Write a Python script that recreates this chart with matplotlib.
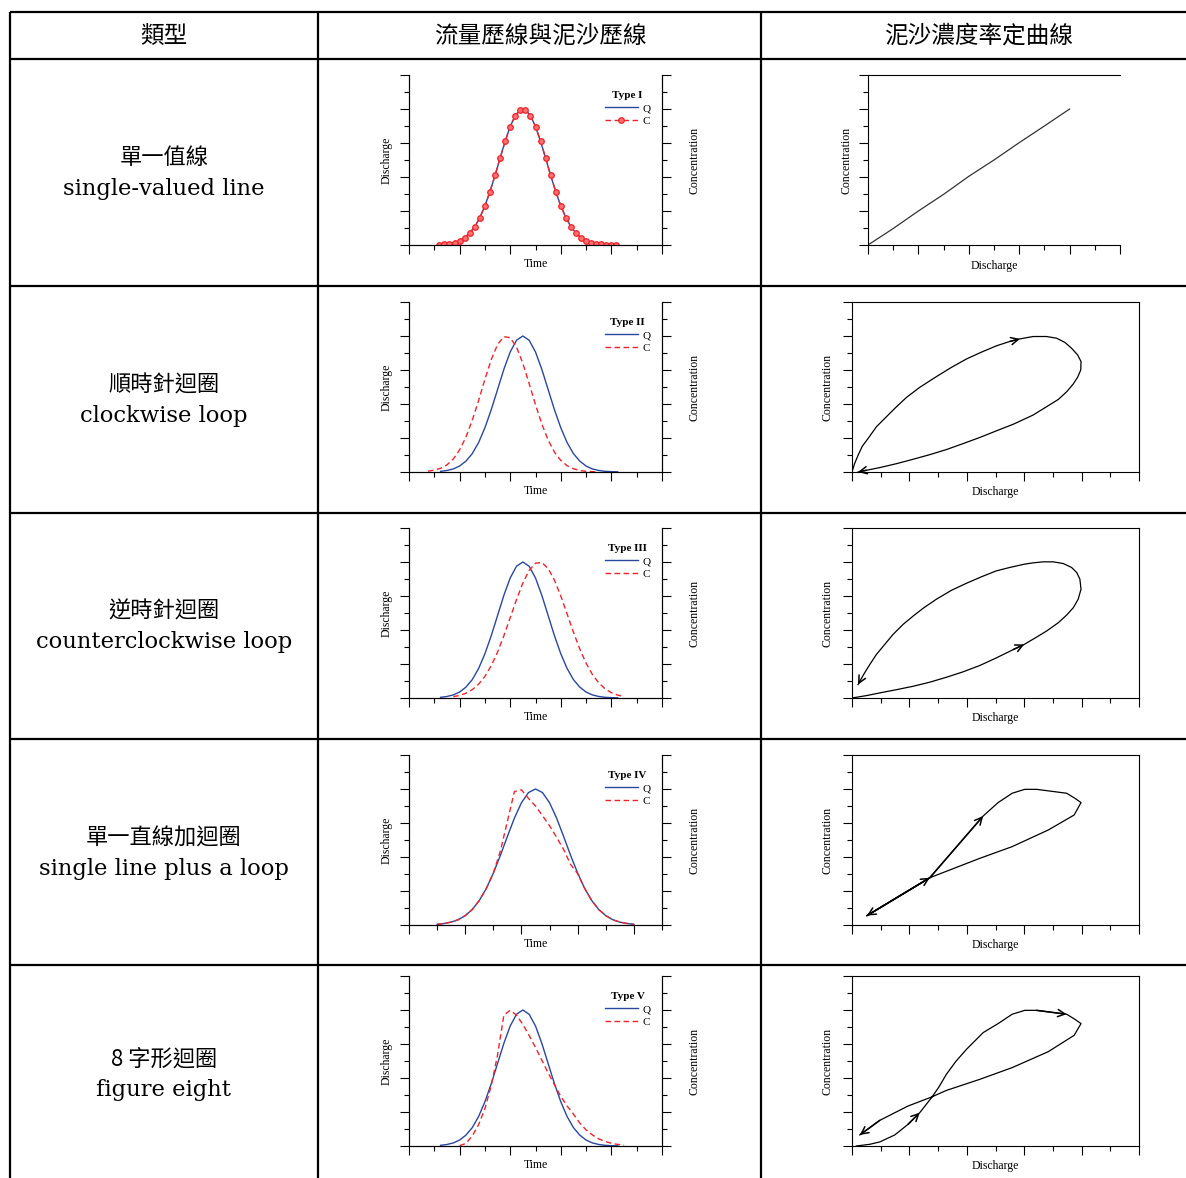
import numpy as np
import matplotlib.pyplot as plt

plt.rcParams['font.family'] = ['Liberation Serif', 'DejaVu Serif']
CJK = ['Noto Sans CJK TC', 'DejaVu Sans']

# table text
headers = ['類型', '流量歷線與泥沙歷線', '泥沙濃度率定曲線']
types_zh = ['單一值線', '順時針迴圈', '逆時針迴圈', '單一直線加迴圈', '8 字形迴圈']
types_en = ['single-valued line', 'clockwise loop', 'counterclockwise loop',
            'single line plus a loop', 'figure eight']
legend_titles = ['Type I', 'Type II', 'Type III', 'Type IV', 'Type V']

# hydrographs (discharge Q and concentration C against time)
t1 = [1.2, 1.4, 1.6, 1.8, 2.0, 2.2, 2.4, 2.6, 2.8, 3.0, 3.2, 3.4, 3.6, 3.8, 4.0, 4.2, 4.4, 4.6,
      4.8, 5.0, 5.2, 5.4, 5.6, 5.8, 6.0, 6.2, 6.4, 6.6, 6.8, 7.0, 7.2, 7.4, 7.6, 7.8, 8.0, 8.2]
q1 = [0.02, 0.04, 0.08, 0.14, 0.25, 0.43, 0.70, 1.08, 1.61, 2.30, 3.14, 4.09, 5.11, 6.10, 6.97, 7.61, 7.96, 7.96,
      7.61, 6.97, 6.10, 5.11, 4.09, 3.14, 2.30, 1.61, 1.08, 0.70, 0.43, 0.25, 0.14, 0.08, 0.04, 0.02, 0.01, 0.0]
c1 = list(q1)  # single-valued: C follows Q exactly

nan = np.nan
t = [0.5, 0.75, 1.0, 1.25, 1.5, 1.75, 2.0, 2.25, 2.5, 2.75, 3.0, 3.25, 3.5, 3.75, 4.0, 4.25, 4.5,
     4.75, 5.0, 5.25, 5.5, 5.75, 6.0, 6.25, 6.5, 6.75, 7.0, 7.25, 7.5, 7.75, 8.0, 8.25, 8.5]
q_std = [nan, nan, nan, 0.04, 0.09, 0.18, 0.35, 0.64, 1.08, 1.73, 2.60, 3.66, 4.85, 6.04, 7.06, 7.75, 8.0,
         7.75, 7.06, 6.04, 4.85, 3.66, 2.60, 1.73, 1.08, 0.64, 0.35, 0.18, 0.09, 0.04, 0.02, 0.01, nan]
c2 = [nan, 0.05, 0.11, 0.22, 0.42, 0.76, 1.30, 2.05, 3.04, 4.20, 5.45, 6.61, 7.50, 7.96, 7.90, 7.35, 6.39,
      5.20, 3.96, 2.82, 1.88, 1.17, 0.68, 0.37, 0.19, 0.09, 0.04, 0.02, 0.01, nan, nan, nan, nan]
c3 = [nan, nan, nan, nan, nan, 0.08, 0.15, 0.28, 0.49, 0.81, 1.27, 1.90, 2.70, 3.66, 4.72, 5.79, 6.76,
      7.51, 7.93, 7.97, 7.62, 6.93, 6.00, 4.94, 3.87, 2.88, 2.05, 1.38, 0.89, 0.54, 0.31, 0.17, 0.09]
q4 = [nan, nan, 0.04, 0.09, 0.17, 0.31, 0.55, 0.91, 1.44, 2.15, 3.05, 4.09, 5.21, 6.29, 7.19, 7.79, 8.0,
      7.79, 7.19, 6.29, 5.21, 4.09, 3.05, 2.15, 1.44, 0.91, 0.55, 0.31, 0.17, 0.09, 0.04, nan, nan]
c4 = [nan, nan, 0.04, 0.09, 0.17, 0.31, 0.55, 0.91, 1.44, 2.15, 3.05, 4.35, 6.10, 7.85, 7.95, 7.45, 7.0,
      6.43, 5.84, 5.16, 4.44, 3.56, 3.02, 2.15, 1.44, 0.91, 0.55, 0.31, 0.17, 0.09, 0.04, nan, nan]
c5 = [nan, nan, nan, nan, nan, nan, 0.02, 0.15, 0.59, 1.25, 2.2, 3.55, 5.35, 7.7, 7.98, 7.7, 7.15,
      6.5, 5.8, 5.05, 4.3, 3.6, 2.92, 2.35, 1.88, 1.35, 0.95, 0.65, 0.42, 0.27, 0.16, 0.09, 0.05]

# rating curves (concentration against discharge)
r1_x = [0, 1, 2, 3, 4, 5, 6, 7, 8]
r1_y = [0, 0.97, 2.0, 2.98, 4.04, 5.0, 6.02, 7.0, 8.0]
r2_x = [0, 0.09, 0.21, 0.36, 0.56, 0.85, 1.20, 1.55, 1.90, 2.36, 2.94, 3.47, 3.99, 4.51, 5.03, 5.50,
        5.85, 6.31, 6.78, 7.13, 7.42, 7.65, 7.86, 7.98, 7.97, 7.86, 7.71, 7.48, 7.19, 6.78, 6.31,
        5.62, 5.03, 4.45, 3.87, 3.29, 2.71, 2.13, 1.55, 0.97, 0.50, 0.21]
r2_y = [0, 0.49, 0.98, 1.52, 1.97, 2.66, 3.25, 3.84, 4.39, 4.98, 5.61, 6.16, 6.65, 7.05, 7.42, 7.68,
        7.83, 7.97, 7.97, 7.87, 7.62, 7.28, 6.89, 6.50, 6.00, 5.57, 5.18, 4.72, 4.27, 3.84, 3.35,
        2.81, 2.42, 2.03, 1.67, 1.32, 1.02, 0.75, 0.49, 0.26, 0.10, 0.0]
r3_x = [0, 0.50, 0.97, 1.55, 2.13, 2.71, 3.29, 3.87, 4.45, 5.03, 5.62, 6.0, 6.43, 6.78, 7.19, 7.48,
        7.71, 7.88, 7.98, 7.94, 7.83, 7.65, 7.36, 7.01, 6.66, 6.31, 6.0, 5.50, 5.03, 4.51, 3.99,
        3.47, 2.94, 2.48, 2.13, 1.78, 1.43, 1.14, 0.85, 0.62, 0.44, 0.27, 0.21]
r3_y = [0, 0.14, 0.30, 0.49, 0.69, 0.93, 1.22, 1.54, 1.91, 2.36, 2.85, 3.15, 3.58, 3.94, 4.43, 4.88,
        5.31, 5.81, 6.40, 6.99, 7.38, 7.68, 7.91, 8.01, 8.01, 7.95, 7.87, 7.68, 7.48, 7.13, 6.75,
        6.34, 5.81, 5.28, 4.82, 4.33, 3.74, 3.15, 2.56, 1.97, 1.48, 0.98, 0.79]
r4_x = [0.52, 2.71, 4.57, 5.09, 5.58, 6.02, 6.43, 7.48, 7.77, 7.98, 7.74, 6.84, 5.58, 4.45, 2.71, 0.52]
r4_y = [0.55, 2.78, 6.41, 7.20, 7.75, 7.98, 7.98, 7.75, 7.45, 7.20, 6.47, 5.59, 4.61, 3.92, 2.78, 0.55]
r5_x = [0.15, 0.62, 0.97, 1.49, 1.95, 2.36, 2.77, 3.02, 3.29, 3.62, 3.99, 4.57, 5.09, 5.58, 6.02, 6.43,
        7.48, 7.77, 7.98, 7.74, 6.84, 5.58, 4.45, 3.29, 2.77, 1.95, 0.97, 0.27]
r5_y = [0, 0.10, 0.24, 0.65, 1.27, 1.96, 2.84, 3.45, 4.22, 4.98, 5.69, 6.67, 7.20, 7.75, 7.98, 7.98,
        7.75, 7.45, 7.20, 6.51, 5.55, 4.61, 3.92, 3.27, 2.88, 2.35, 1.51, 0.65]
# arrow heads: (from index, to index)
r2_arrows = [(15, 16), (-2, -1)]
r3_arrows = [(10, 11), (-2, -1)]
r4_arrows = [(0, 1), (1, 2), (-2, -1)]
r5_arrows = [(4, 5), (15, 16), (-2, -1)]

hydro = [(t1, q1, c1, 10), (t, q_std, c2, 10), (t, q_std, c3, 10), (t, q4, c4, 9), (t, q_std, c5, 10)]
loops = [(r2_x, r2_y, r2_arrows), (r3_x, r3_y, r3_arrows), (r4_x, r4_y, r4_arrows), (r5_x, r5_y, r5_arrows)]

BLUE = '#2a47a0'
RED = '#f0232b'
W, H = 1186, 1178
fig = plt.figure(figsize=(W / 100, H / 100), dpi=100)


def px_axes(x0, y0, x1, y1):
    return fig.add_axes([x0 / W, 1 - y1 / H, (x1 - x0) / W, (y1 - y0) / H])


def style_ticks(ax, xmax, left=True, bottom=True, right=False):
    ax.set_xlim(0, xmax)
    ax.set_ylim(0, 10)
    ax.set_xticks(range(0, xmax + 1, 2))
    ax.set_xticks(range(0, xmax + 1), minor=True)
    ax.set_yticks(range(0, 11, 2))
    ax.set_yticks(range(0, 11), minor=True)
    ax.tick_params(which='both', direction='out', width=0.8, left=left, bottom=bottom, right=right,
                   top=False, labelleft=False, labelbottom=False, labelright=False)
    ax.tick_params(which='major', length=6.5)
    ax.tick_params(which='minor', length=3.5)
    for s in ax.spines.values():
        s.set_linewidth(0.8)


# table frame
tab = fig.add_axes([0, 0, 1, 1])
tab.set_xlim(0, W)
tab.set_ylim(H, 0)
tab.axis('off')
tab.hlines([12, 59, 286, 513, 739, 965], 10, W, color='k', lw=1.6)
tab.vlines([10, 318, 761], 12, H, color='k', lw=1.6)
for x, txt in zip([164, 540, 979], headers):
    tab.text(x, 36, txt, ha='center', va='center', family=CJK, fontsize=17)
for yc, zh, en in zip([173, 400, 626, 853, 1074], types_zh, types_en):
    tab.text(164, yc - 15, zh, ha='center', va='center', family=CJK, fontsize=16)
    tab.text(164, yc + 16, en, ha='center', va='center', family='DejaVu Serif', fontsize=16.3)

tops = [75, 302, 528, 755, 976]

# hydrograph panels
for i, (tt, q, c, xmax) in enumerate(hydro):
    top = tops[i]
    ax = px_axes(409, top, 662, top + 170)
    ax.plot(tt, q, color=BLUE, lw=1.0, label='Q')
    if i == 0:
        ax.plot(tt, c, color=RED, lw=1.0, ls=(0, (4, 2.5)), marker='o', ms=4,
                mfc='#ff7070', mec=RED, mew=0.9, label='C')
    else:
        ax.plot(tt, c, color=RED, lw=1.0, ls=(0, (4, 2.5)), label='C')
    ax.spines['top'].set_visible(False)
    style_ticks(ax, xmax)
    ax.set_xlabel('Time', fontsize=8.5, labelpad=3)
    ax.set_ylabel('Discharge', fontsize=8.5, labelpad=5)
    leg = ax.legend(title=legend_titles[i], loc='upper right', bbox_to_anchor=(0.955, 0.905),
                    frameon=False, fontsize=8, title_fontsize=8, handlelength=3.0,
                    handletextpad=0.4, labelspacing=0.3, borderpad=0, borderaxespad=0)
    leg.get_title().set_fontweight('bold')
    ax2 = ax.twinx()
    ax2.spines['top'].set_visible(False)
    style_ticks(ax2, xmax, left=False, bottom=False, right=True)
    ax2.set_ylabel('Concentration', fontsize=8.5, labelpad=12.5)

# rating curve, row 1
ax = px_axes(868, 75, 1120, 245)
ax.plot(r1_x, r1_y, color='#333333', lw=0.9)
ax.spines['right'].set_visible(False)
style_ticks(ax, 10)
ax.set_xlabel('Discharge', fontsize=8.5, labelpad=4)
ax.set_ylabel('Concentration', fontsize=8.5, labelpad=5)

# rating loops, rows 2-5
for i, (xs, ys, arrows) in enumerate(loops):
    top = tops[i + 1]
    ax = px_axes(852, top, 1139, top + 170)
    ax.plot(xs, ys, color='k', lw=0.9)
    for a, b in arrows:
        ax.annotate('', xy=(xs[b], ys[b]), xytext=(xs[a], ys[a]),
                    arrowprops=dict(arrowstyle='->', color='k', lw=1.1, mutation_scale=13,
                                    shrinkA=0, shrinkB=0))
    style_ticks(ax, 10)
    ax.set_xlabel('Discharge', fontsize=8.5, labelpad=3.5)
    ax.set_ylabel('Concentration', fontsize=8.5, labelpad=7)

fig.savefig('out.png', dpi=100, facecolor='white')
